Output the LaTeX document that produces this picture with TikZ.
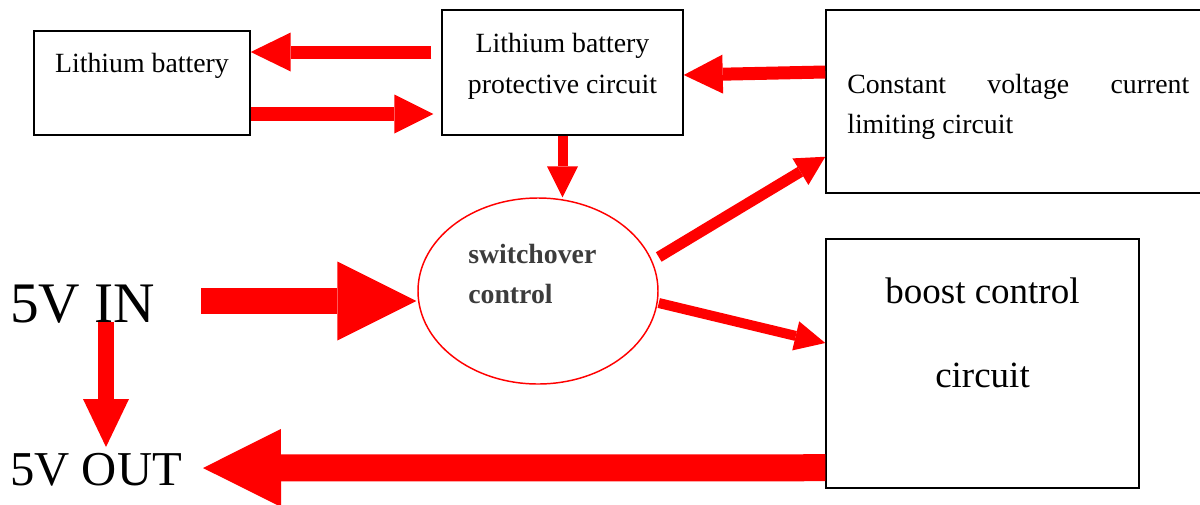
\documentclass[tikz,border=0pt]{standalone}
\usepackage{fontspec}
\setmainfont{Liberation Serif}
\usetikzlibrary{arrows.meta,shapes.geometric}
\definecolor{swgray}{RGB}{60,60,60}
\tikzset{
  box/.style={draw=black, line width=1.1pt, inner sep=0pt},
  txt/.style={inner sep=0pt, font=\fontsize{20.85}{30}\selectfont},
  rarrow/.style n args={3}{draw=red, line width=#1, -{Triangle[length=#2, width=#3, line width=0pt]}}
}
\begin{document}
\begin{tikzpicture}[x=0.75pt,y=-0.75pt]
\useasboundingbox (0,0) rectangle (1200,504);
% boxes
\node[box, minimum width=162pt, minimum height=78pt] (lith) at (142,83) {};
\node[box, minimum width=180.75pt, minimum height=93.75pt] (prot) at (562.5,72.5) {};
\node[box, minimum width=291.75pt, minimum height=137.25pt] (cons) at (1020.5,101.5) {};
\node[box, minimum width=234.75pt, minimum height=186.75pt] (boost) at (982.5,363.5) {};
\node[draw=red, line width=1.1pt, ellipse, inner sep=0pt, minimum width=180pt, minimum height=139.5pt] (sw) at (538,291) {};
% texts
\node[txt, anchor=base] (lithT) at (142,72) {Lithium battery};
\node[txt, anchor=base] (protT) at (562.5,52) {\fontsize{20.85}{30.75}\selectfont\parbox[t]{180pt}{\centering Lithium battery\\protective circuit}};
\node[txt, anchor=base west] (consT) at (847,93) {\parbox[t]{256.5pt}{Constant\hfill voltage\hfill current\\limiting circuit}};
\node[txt, anchor=base] (boostT) at (982.5,303) {\fontsize{27.75}{63}\selectfont\parbox[t]{230pt}{\centering boost control\\circuit}};
\node[txt, anchor=base west, text=swgray] (swT) at (468,263) {\bfseries\parbox[t]{150pt}{switchover\\control}};
\node[inner sep=0pt, anchor=base west, font=\fontsize{43}{50}\selectfont] (vin) at (10,322) {5V IN};
\node[inner sep=0pt, anchor=base west, font=\fontsize{36.5}{42}\selectfont] (vout) at (10,485) {5V OUT};
% arrows
\draw[rarrow={9.75pt}{30pt}{29.25pt}] ([shift={(-10,-20.5)}]prot.west) -- ([shift={(0,-31)}]lith.east);
\draw[rarrow={10.5pt}{29.25pt}{29.25pt}] ([shift={(0,31)}]lith.east) -- ([shift={(-8,41.5)}]prot.west);
\draw[rarrow={7.5pt}{23.25pt}{23.25pt}] (prot.south) -- (prot.south |- sw.north);
\draw[rarrow={9.75pt}{29.25pt}{29.25pt}] ([shift={(0,-29.5)}]cons.west) -- ([shift={(0,2.5)}]prot.east);
\draw[rarrow={8.25pt}{21.75pt}{23.25pt}] ([shift={(0,-34)}]sw.east) -- ([shift={(0,-37)}]cons.south west);
\draw[rarrow={7.5pt}{22.8pt}{22.4pt}] ([shift={(0,12)}]sw.east) -- ([shift={(0,-20.5)}]boost.west);
\draw[rarrow={19.5pt}{59.25pt}{59.25pt}] ([shift={(-216,10)}]sw.west) -- ([shift={(-1,10)}]sw.west);
\draw[rarrow={12pt}{36pt}{34.5pt}] ([shift={(96,0)}]vin.base west) -- ([shift={(96,-38)}]vout.base west);
\draw[rarrow={20.25pt}{58.5pt}{58.5pt}] ([shift={(0,-21)}]boost.south west) -- ([shift={(193,-17)}]vout.base west);
\end{tikzpicture}
\end{document}
